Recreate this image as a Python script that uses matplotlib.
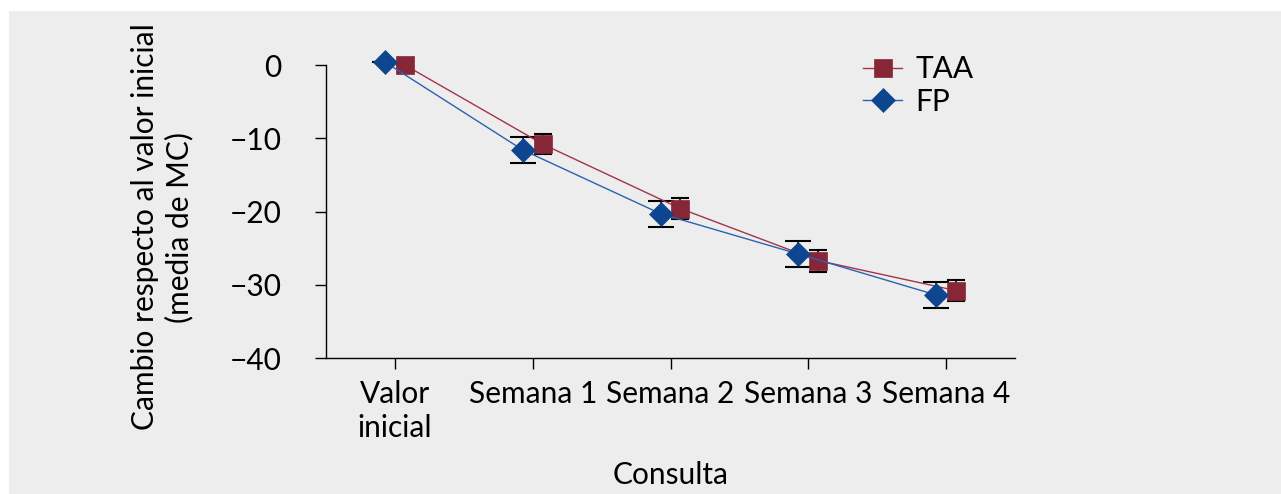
import matplotlib
matplotlib.use("Agg")
import matplotlib.pyplot as plt
from matplotlib.patches import Rectangle
import numpy as np

plt.rcParams['font.family'] = ['Lato', 'DejaVu Sans']

# data
visits = ["Valor\ninicial", "Semana 1", "Semana 2", "Semana 3", "Semana 4"]
taa_mean = [0.0, -10.8, -19.6, -26.7, -30.8]
taa_err = [0.0, 1.4, 1.4, 1.5, 1.4]
fp_mean = [0.4, -11.6, -20.3, -25.8, -31.4]
fp_err = [0.0, 1.8, 1.8, 1.8, 1.75]

taa_line = '#a3344a'
taa_marker = '#862636'
fp_line = '#2b62b0'
fp_marker = '#0d468f'
FS = 21.5

fig = plt.figure(figsize=(12.81, 4.94), dpi=100)
fig.patch.set_facecolor('white')
fig.patches.append(Rectangle((9 / 1281, 0), 1 - 9 / 1281, 1 - 11 / 494,
                             transform=fig.transFigure, facecolor='#ededed',
                             edgecolor='none', zorder=-10))

ax = fig.add_axes([326 / 1281, 1 - 358 / 494, (1015 - 326) / 1281, (358 - 65) / 494])
ax.set_facecolor('none')

x = np.arange(len(visits))
dodge = 0.072

# error bars first, markers on top
ax.errorbar(x + dodge, taa_mean, yerr=taa_err, fmt='none', ecolor='black',
            elinewidth=1.2, capsize=6.8, capthick=1.5, zorder=3, clip_on=False)
ax.errorbar(x - dodge, fp_mean, yerr=fp_err, fmt='none', ecolor='black',
            elinewidth=1.2, capsize=9.7, capthick=1.5, zorder=3, clip_on=False)

ax.plot(x + dodge, taa_mean, color=taa_line, lw=1.0, marker='s', ms=13.5,
        mfc=taa_marker, mec=taa_marker, mew=0.5, label='TAA', zorder=4, clip_on=False)
ax.plot(x - dodge, fp_mean, color=fp_line, lw=1.0, marker='D', ms=12.5,
        mfc=fp_marker, mec=fp_marker, mew=0.5, label='FP', zorder=5, clip_on=False)

ax.set_xlim(-0.5, 4.5)
ax.set_ylim(-40, 0)
ax.set_yticks([0, -10, -20, -30, -40])
ax.set_xticks(x)
ax.set_xticklabels(visits, fontsize=FS, linespacing=1.25)
ax.tick_params(axis='y', labelsize=FS, length=8, width=1, pad=24)
ax.tick_params(axis='x', length=8, width=1, pad=8)

for s in ['top', 'right']:
    ax.spines[s].set_visible(False)
for s in ['left', 'bottom']:
    ax.spines[s].set_linewidth(1)

ax.set_xlabel('Consulta', fontsize=FS, labelpad=14)
fig.text(162 / 1281, 1 - 227 / 494, 'Cambio respecto al valor inicial\n(media de MC)',
         rotation=90, ha='center', va='center', fontsize=FS, linespacing=1.25,
         multialignment='center')

leg = ax.legend(loc='center left', bbox_to_anchor=(0.78, 0.93), frameon=False,
                fontsize=FS, handlelength=1.3, handletextpad=0.45, labelspacing=0.15,
                borderpad=0, borderaxespad=0)

fig.savefig('out.png', dpi=100)
